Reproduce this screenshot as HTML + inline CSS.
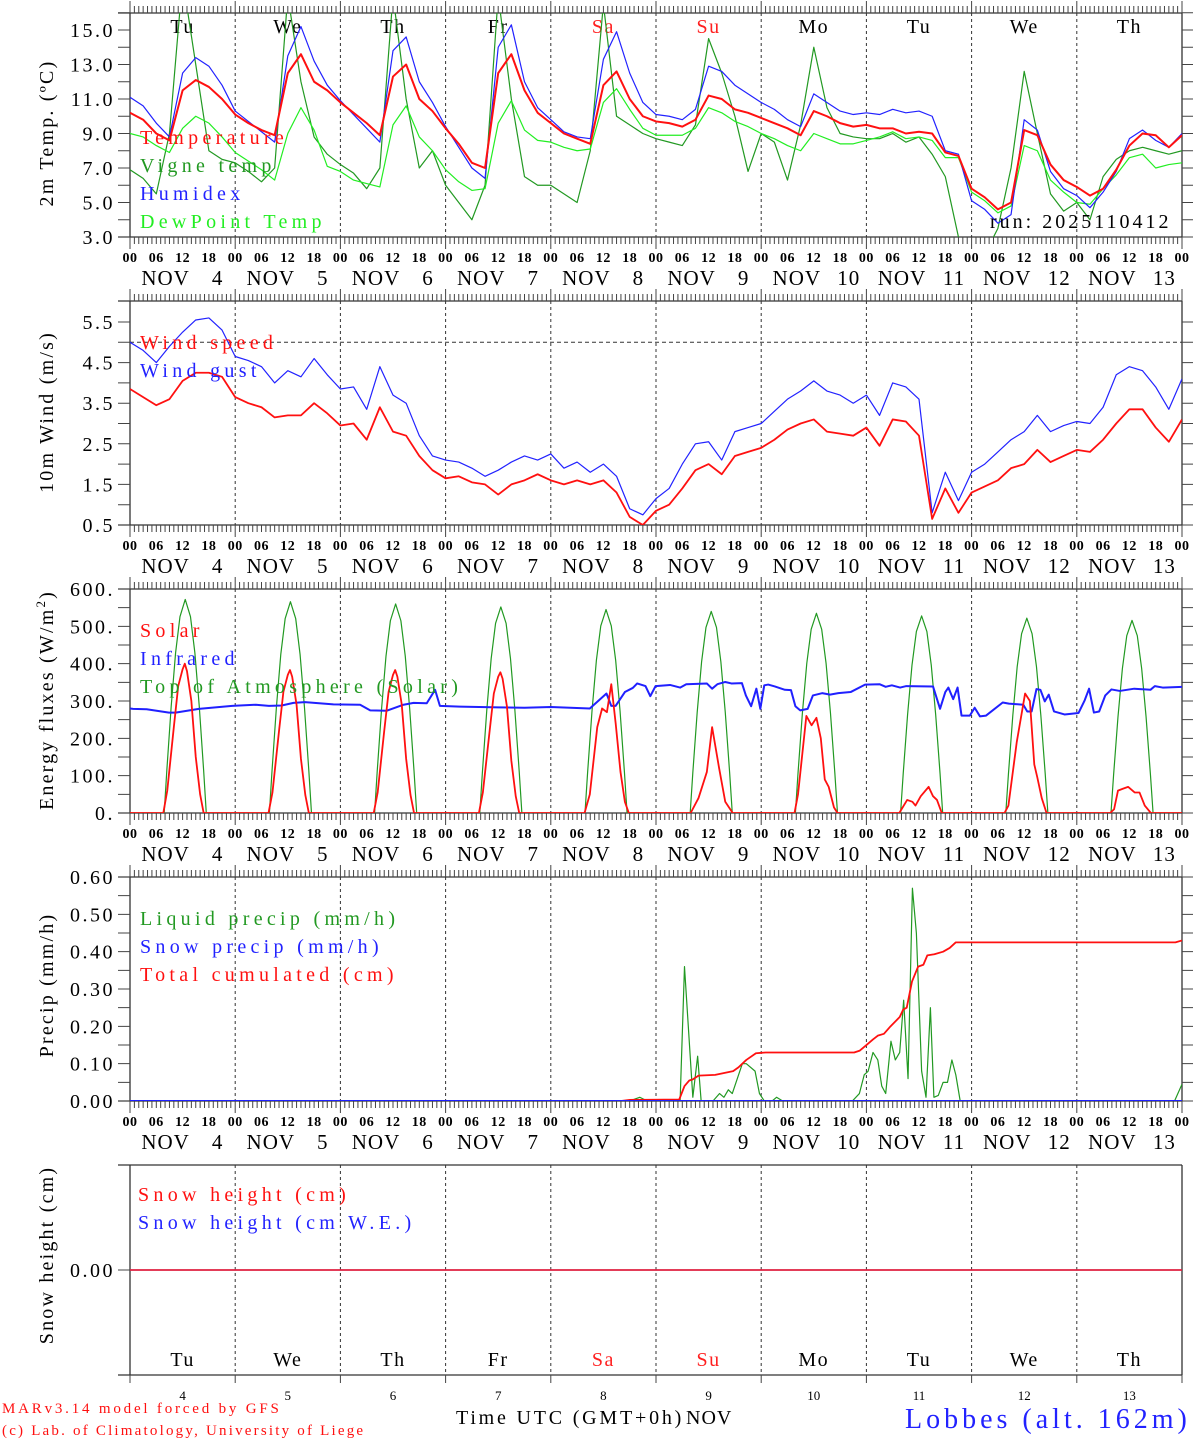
<!DOCTYPE html>
<html><head><meta charset="utf-8"><title>MAR meteogram Lobbes</title>
<style>
html,body{margin:0;padding:0;background:#fff;}
svg{display:block;font-family:"Liberation Serif","DejaVu Serif",serif;}
</style></head>
<body>
<svg id="chart" xmlns="http://www.w3.org/2000/svg" width="1194" height="1440" viewBox="0 0 1194 1440"></svg>
<script>
// ---------- DATA ----------
const dayNames = ["Tu","We","Th","Fr","Sa","Su","Mo","Tu","We","Th"];
const dayNums = ["4","5","6","7","8","9","10","11","12","13"];
const hourLabels = ["00","06","12","18"];
const tempTicks = ["3.0","5.0","7.0","9.0","11.0","13.0","15.0"];
const windTicks = ["0.5","1.5","2.5","3.5","4.5","5.5"];
const fluxTicks = ["0.","100.","200.","300.","400.","500.","600."];
const precipTicks = ["0.00","0.10","0.20","0.30","0.40","0.50","0.60"];

// 3-hourly series (index*3 = hours since Nov 4 00 UTC)
const temperature = [10.2,9.8,9.0,8.6,11.5,12.1,11.7,11.0, 10.1,9.6,9.2,8.9,12.5,13.6,12.0,11.5, 10.8,10.2,9.6,8.9,12.3,13.0,11.0,10.3, 9.3,8.4,7.3,7.0,12.5,13.6,11.5,10.2, 9.6,9.0,8.7,8.4,11.8,12.6,11.0,10.0, 9.7,9.6,9.4,9.8,11.2,11.0,10.4,10.2, 9.9,9.6,9.3,8.9,10.3,10.0,9.6,9.4, 9.5,9.3,9.3,9.0,9.1,9.0,7.9,7.7, 5.8,5.3,4.6,5.0,9.2,8.9,7.2,6.3, 5.9,5.4,5.8,6.9,8.3,9.0,8.9,8.2,8.9];
const humidex = [11.1,10.6,9.6,8.8,12.5,13.4,12.9,11.8, 10.3,9.7,9.1,8.5,13.5,15.2,13.2,11.8, 10.9,10.1,9.3,8.5,13.8,14.6,12.0,10.8, 9.4,8.2,7.0,6.4,14.0,15.3,12.0,10.5, 9.8,9.1,8.8,8.7,13.3,14.9,12.5,10.8, 10.1,10.0,9.8,10.4,12.9,12.6,11.8,11.3, 10.8,10.4,9.8,9.4,11.3,10.8,10.3,10.1, 10.2,10.1,10.4,10.2,10.3,10.0,8.0,7.8, 5.1,4.6,3.8,4.3,9.8,9.2,6.8,5.8, 5.4,4.7,5.6,6.8,8.7,9.2,8.6,8.2,9.0];
const dewpoint = [9.0,8.8,8.3,7.9,9.3,10.0,9.6,8.8, 7.9,7.4,6.9,6.3,9.0,10.5,9.2,7.1, 6.8,6.3,6.1,5.9,9.5,10.6,8.8,8.0, 6.9,6.2,5.7,5.8,9.6,10.9,9.2,8.6, 8.5,8.2,8.0,8.1,10.8,11.6,10.4,9.3, 8.9,8.9,8.9,9.3,10.5,10.2,9.7,9.4, 9.0,8.7,8.3,8.0,9.0,8.7,8.4,8.4, 8.6,8.8,9.1,8.7,8.8,8.6,7.6,7.6, 5.6,5.1,4.4,4.8,8.3,8.0,6.3,5.6, 5.0,4.9,5.8,6.6,7.6,7.8,7.0,7.2,7.3];
const vigne = [6.9,6.4,5.5,9.0,18.0,13.0,8.0,7.5, 7.3,6.8,6.2,7.0,17.0,12.0,8.8,7.8, 7.2,6.7,5.8,7.0,17.0,11.0,7.0,8.0, 6.0,5.0,4.0,6.0,17.0,11.0,6.5,6.0, 6.0,5.5,5.0,8.0,16.5,10.0,9.5,9.0, 8.7,8.5,8.3,9.5,14.5,12.5,10.0,6.8, 9.0,8.5,6.3,9.5,14.0,10.5,9.0,8.8, 8.7,8.7,9.0,8.5,8.8,7.8,6.5,3.0, 2.5,2.0,3.5,7.0,12.6,9.0,5.5,4.5, 5.0,4.0,6.5,7.5,8.0,8.2,8.0,7.8,8.0];

const windSpeed = [3.85,3.65,3.45,3.6,4.05,4.25,4.25,4.15, 3.65,3.5,3.4,3.15,3.2,3.2,3.5,3.25, 2.95,3.0,2.6,3.4,2.8,2.7,2.2,1.85, 1.65,1.7,1.55,1.5,1.25,1.5,1.6,1.75, 1.6,1.5,1.6,1.5,1.6,1.3,0.7,0.5, 0.85,1.0,1.4,1.85,2.0,1.75,2.2,2.3, 2.4,2.6,2.85,3.0,3.1,2.8,2.75,2.7, 2.9,2.45,3.1,3.05,2.7,0.65,1.4,0.8, 1.3,1.45,1.6,1.9,2.0,2.35,2.05,2.2, 2.35,2.3,2.6,3.0,3.35,3.35,2.9,2.55,3.1];
const windGust = [5.0,4.8,4.5,4.9,5.25,5.55,5.6,5.3, 4.65,4.55,4.4,4.0,4.3,4.15,4.6,4.2, 3.85,3.9,3.35,4.4,3.7,3.5,2.7,2.2, 2.1,2.05,1.9,1.7,1.85,2.05,2.2,2.1, 2.25,1.9,2.05,1.8,2.0,1.7,0.9,0.75, 1.15,1.4,2.0,2.5,2.55,2.1,2.8,2.9, 3.0,3.3,3.6,3.8,4.05,3.8,3.7,3.5, 3.7,3.2,4.0,3.9,3.6,0.8,1.8,1.1, 1.8,2.0,2.3,2.6,2.8,3.2,2.8,2.95, 3.05,3.0,3.4,4.2,4.4,4.3,3.9,3.35,4.1];

// Solar (hour, W/m2)
const solarHours = [0,7.6,8.5,10,11,12,12.5,13,14,15,16,16.8, 31.6,32.5,34,35,36,36.5,37,38,39,40,40.8, 55.6,56.5,58,59,60,60.5,61,62,63,64,64.8, 79.6,80.5,82,83,84,84.5,85,86,87,88,88.8, 103.7,104.9,106.6,107.7,108.8,109.8,110.8,111.9,112.9,113.8, 127.9,129.7,131.6,132.8,134.4,135.8,137.5, 151.6,152.4,154.3,155.5,156.6,157.6,158.5,159.4,160.6,161.4, 175.5,177.3,178.5,179.2,180.4,182.2,183.2,184.1,185.2, 199.5,200.4,202.3,204.2,205.3,206.3,207.0,208.0,209.1, 223.6,224.5,225.4,226.5,227.7,229.2,230.3,231.5,232.9,240];
const solarValues = [0,0,60,230,340,385,400,380,300,150,50,0, 0,55,220,325,370,383,365,290,145,48,0, 0,55,220,325,370,383,365,290,145,48,0, 0,55,215,320,365,377,360,285,140,45,0, 0,50,230,280,270,345,240,110,30,0, 0,40,110,230,120,30,0, 0,50,260,235,255,200,90,70,15,0, 0,35,30,20,45,70,45,35,0, 0,20,190,320,300,130,95,40,0, 0,10,60,65,70,55,55,20,0,0];

// Top-of-atmosphere solar: local hours and one row per day
const toaLocalHours = [7.8,8.4,9.4,10.4,11.4,12.6,13.8,14.8,15.8,16.8,17.4];
const toaByDay = [
 [0,114,286,429,526,572,526,429,286,114,0],
 [0,113,283,425,521,566,521,425,283,113,0],
 [0,112,280,420,515,560,515,420,280,112,0],
 [0,110,276,414,508,552,508,414,276,110,0],
 [0,109,273,409,501,545,501,409,273,109,0],
 [0,108,270,405,497,540,497,405,270,108,0],
 [0,107,268,401,492,535,492,401,268,107,0],
 [0,106,264,396,486,528,486,396,264,106,0],
 [0,104,261,392,480,522,480,392,261,104,0],
 [0,103,258,387,475,516,475,387,258,103,0]];

// Infrared (hour, W/m2)
const irHours = [0,0.7,3.8,8.9,10.4,15.7,23.3,28.7,31.7,34.6,37.3,39.9,46.4,52.5,54.8,58.6,62.4,64.7,67.7,69.6,70.7,75.2,84,90,96,104.9,108.7,109.8,110.8,112.9,114.7,115.7,117.6,118.7,119.9,123.2,125.5,126.9,131.6,132.8,134,135.8,137.2,139.6,140.5,141.7,142.9,143.8,144.7,145.6,147.1,149.4,150.8,151.8,152.9,154.6,155.8,157.9,159.7,161.6,164.4,167.7,171,172.4,173.8,175.7,177.1,183.2,184.8,186,186.7,187.8,188.8,189.7,191.6,192.7,193.9,195.3,199.1,200.5,203.8,204.7,205.7,206.8,207.7,208.7,209.6,210.8,213.2,216.4,217.8,218.8,219.9,221.1,222.5,223.9,225.8,229.1,232.8,233.8,235.6,240];
const irValues = [280,279,278,269,269,279,287,290,287,288,295,297,291,290,275,274,290,295,294,330,287,285,283,282,284,280,320,287,287,324,335,347,340,313,340,343,336,345,347,333,345,351,347,348,315,286,333,279,342,344,339,330,329,286,275,279,315,321,317,321,324,344,345,338,342,336,340,339,279,324,336,305,336,261,261,282,259,261,296,293,290,272,272,332,330,299,317,272,264,268,302,333,269,272,315,331,327,333,330,340,336,338];

// Precipitation (hour, mm/h)
const liquidHours = [0,114,116.3,118,125.5,126.5,128.4,129.5,130.3,133,134.5,135.5,136.5,137.4,139.7,140.6,142.6,143.6,144.7,146.5,147.5,148.9,164.8,166.4,167.5,168.4,169.5,170.6,171.5,172.4,173.6,174.6,175.6,176.5,177.5,178.5,179.4,180.6,181.6,182.6,183.4,184.4,185.5,186.5,187.5,188.4,189.4,238.3,240];
const liquidValues = [0,0,0.01,0,0,0.36,0.01,0.12,0,0,0.02,0.01,0.03,0.02,0.10,0.10,0.08,0.02,0,0,0.01,0,0,0.02,0.07,0.08,0.13,0.11,0.04,0.02,0.16,0.11,0.13,0.27,0.06,0.57,0.45,0.08,0.01,0.25,0.01,0.015,0.05,0.05,0.11,0.07,0,0,0.045];
const snowPrecipHours = [0,240];
const snowPrecipValues = [0,0];
const cumulHours = [0,112,114,125.3,126.5,127.6,128.4,129.7,133.5,137.6,138.8,140.6,142.8,145,165.2,166.5,168,169.5,170.6,172,173.5,175.6,176.4,177.2,178.4,179.8,181,181.9,183.5,185.5,187,188.4,238.5,240];
const cumulValues = [0,0,0.003,0.004,0.04,0.055,0.058,0.068,0.07,0.08,0.09,0.11,0.128,0.13,0.13,0.135,0.15,0.165,0.175,0.18,0.2,0.225,0.245,0.25,0.32,0.36,0.365,0.39,0.393,0.4,0.41,0.425,0.425,0.43];

// Snow height
const snowHours = [0,240];
const snowHeight = [0,0];
const snowWE = [0,0];

// ---------- DRAWING ----------
const svg = document.getElementById('chart');
const NS = 'http://www.w3.org/2000/svg';
const X0 = 130, X1 = 1182;
function xh(h){ return X0 + h*(X1-X0)/240; }
function mk(tag, attrs, parent){
  const e = document.createElementNS(NS, tag);
  for (const k in attrs) e.setAttribute(k, attrs[k]);
  (parent||svg).appendChild(e);
  return e;
}
function txt(s, x, y, size, fill, anchor, parent, ls){
  const t = mk('text', {x:x, y:y, 'font-size':size, fill:fill||'#000', 'text-anchor':anchor||'start'}, parent);
  if(ls) t.setAttribute('letter-spacing', ls);
  t.textContent = s;
  return t;
}
function linePath(xsArr, ysArr){
  let d='';
  for(let i=0;i<xsArr.length;i++){ d += (i?'L':'M') + xsArr[i].toFixed(2)+','+ysArr[i].toFixed(2); }
  return d;
}

const panels = [
  {id:'temp', top:13, bottom:237, y:v=>237-(v-3)*17.25},
  {id:'wind', top:301, bottom:525, y:v=>525-(v-0.5)*40.6},
  {id:'flux', top:589, bottom:813, y:v=>813-v*0.3733},
  {id:'precip', top:877, bottom:1101, y:v=>1101-v*373.3},
  {id:'snow', top:1165, bottom:1375, y:v=>1270-v*100}
];

const defs = mk('defs', {});
panels.forEach(p=>{
  const cp = mk('clipPath', {id:'clip-'+p.id}, defs);
  mk('rect', {x:X0, y:p.top, width:X1-X0, height:p.bottom-p.top}, cp);
});

function frame(p, hourlyTicks, name){
  const g = mk('g', {});
  
  
  mk('line', {x1:118, y1:p.top, x2:X1, y2:p.top, stroke:'#333', 'stroke-width':1.3}, g);
  mk('line', {x1:X0, y1:p.top, x2:X0, y2:p.bottom, stroke:'#333', 'stroke-width':1.3}, g);
  mk('line', {x1:X1, y1:p.top, x2:X1, y2:p.bottom, stroke:'#333', 'stroke-width':1.3}, g);
  mk('line', {x1:118, y1:p.bottom, x2:X1, y2:p.bottom, stroke:'#333', 'stroke-width':1.3}, g);
  for(let d=1; d<10; d++){
    mk('line', {x1:xh(d*24), y1:p.top, x2:xh(d*24), y2:p.bottom, stroke:'#333', 'stroke-width':1, 'stroke-dasharray':'3,3'}, g);
  }
  let d='';
  for(let h=0; h<=240; h++){
    const x = xh(h).toFixed(2);
    const L = (h%24===0)?12:7;
    d += 'M'+x+','+p.top+'V'+(p.top-L)+'M'+x+','+p.bottom+'V'+(p.bottom+L);
  }
  mk('path', {d:d, stroke:'#444', 'stroke-width':1, fill:'none'}, g);
}
function yTicks(p, values, labels, fmtVals){
  const g = mk('g', {});
  
  
  let d='';
  for(const v of values){ const y=p.y(v).toFixed(2); d+='M118,'+y+'H'+X0+'M'+X1+','+y+'H'+(X1+11); }
  mk('path', {d:d, stroke:'#444', 'stroke-width':1, fill:'none'}, g);
  labels.forEach((lab,i)=>{
    const t = txt(lab, 115, p.y(fmtVals[i])+7, 20, '#000', 'end', g, 2.5);
    
    
  });
}
function hourAxis(p){
  const g = mk('g', {});
  
  
  for(let day=0; day<=10; day++){
    for(let k=0;k<4;k++){
      if(day===10 && k>0) break;
      const t = txt(hourLabels[k], xh(day*24+k*6), p.bottom+25, 14, '#000', 'middle', g, 0.5);
      t.setAttribute('font-weight','bold');
    }
  }
  for(let day=0; day<10; day++){
    const cx = xh(day*24+12);
    txt('NOV', cx-17, p.bottom+48, 21, '#000', 'middle', g, 1);
    txt(dayNums[day], cx+35, p.bottom+48, 21, '#000', 'middle', g, 1);
  }
}
function series(p, hoursArr, vals, color, width, name){
  const xsA = hoursArr.map(xh), ysA = vals.map(p.y);
  const e = mk('path', {d:linePath(xsA, ysA), stroke:color, 'stroke-width':width, fill:'none', 'clip-path':'url(#clip-'+p.id+')', 'stroke-linejoin':'round'});
  
  
  return e;
}
function legend(lines, x, y0, step, name){
  const g = mk('g', {});
  
  
  lines.forEach((l,i)=>{
    const t = txt(l[0], x, y0+i*step, 20, l[1], 'start', g, 4.3);
    
    
  });
}
function yTitle(s, cy, name){
  const t = txt(s, 0, 0, 20, '#000', 'middle', null, 2.2);
  t.setAttribute('transform', 'translate(53,'+cy+') rotate(-90)');
  
  
}
function range(a,b,s){ const r=[]; for(let v=a; v<=b+1e-9; v+=s) r.push(+v.toFixed(4)); return r; }
const h3 = temperature.map((_,i)=>i*3);

// ---- Panel 1: temperature
const P1 = panels[0];
frame(P1, true, 'temperature-panel');
yTicks(P1, range(3,16,1), tempTicks, [3,5,7,9,11,13,15]);
hourAxis(P1);
dayNames.forEach((n,i)=>{
  const t = txt(n, xh(i*24+12), 33, 20, (i===4||i===5)?'#ff2020':'#000', 'middle', null, 1.5);
  
  
});
series(P1, h3, vigne, '#229922', 1.2, 'vigne-temp-line');
series(P1, h3, dewpoint, '#22ee22', 1.2, 'dewpoint-line');
series(P1, h3, humidex, '#2222ff', 1.2, 'humidex-line');
series(P1, h3, temperature, '#ff1010', 2, 'temperature-line');
legend([['Temperature','#ff1010'],['Vigne temp','#229922'],['Humidex','#2222ff'],['DewPoint Temp','#22ee22']], 140, 144, 28, 'temperature-legend');
const run = txt('run: 2025110412', 990, 228, 20, '#000', 'start', null, 3);  
yTitle('2m Temp. (ºC)', 133, 'temperature-y-title');

// ---- Panel 2: wind
const P2 = panels[1];
frame(P2, true, 'wind-panel');
yTicks(P2, range(0.5,5.5,0.5), windTicks, [0.5,1.5,2.5,3.5,4.5,5.5]);
hourAxis(P2);
mk('line', {x1:X0, y1:P2.y(5), x2:X1, y2:P2.y(5), stroke:'#333', 'stroke-width':1, 'stroke-dasharray':'4,3'});
series(P2, h3, windGust, '#2222ff', 1.2, 'wind-gust-line');
series(P2, h3, windSpeed, '#ff1010', 1.8, 'wind-speed-line');
legend([['Wind speed','#ff1010'],['Wind gust','#2222ff']], 140, 349, 28, 'wind-legend');
yTitle('10m Wind (m/s)', 412, 'wind-y-title');

// ---- Panel 3: fluxes
const P3 = panels[2];
frame(P3, true, 'flux-panel');
yTicks(P3, range(0,600,50), fluxTicks, [0,100,200,300,400,500,600]);
hourAxis(P3);
(function(){
  const hh=[0], vv=[0];
  toaByDay.forEach((row,d)=>{ row.forEach((v,k)=>{ hh.push(d*24+toaLocalHours[k]); vv.push(v); }); });
  hh.push(240); vv.push(0);
  series(P3, hh, vv, '#229922', 1.2, 'toa-solar-line');
})();
series(P3, irHours, irValues, '#2020ff', 2, 'infrared-line');
series(P3, solarHours, solarValues, '#ff1010', 1.8, 'solar-line');
legend([['Solar','#ff1010'],['Infrared','#2222ff'],['Top of Atmosphere (Solar)','#229922']], 140, 637, 28, 'flux-legend');
(function(){
  const t = txt('', 0, 0, 20, '#000', 'middle', null, 2.2);
  t.setAttribute('transform','translate(53,700) rotate(-90)');
  t.textContent = 'Energy fluxes (W/m';
  const s = mk('tspan', {'font-size':13, dy:-8}, t); s.textContent='2';
  const s2 = mk('tspan', {dy:8}, t); s2.textContent=')';
  
  
})();

// ---- Panel 4: precipitation
const P4 = panels[3];
frame(P4, true, 'precip-panel');
yTicks(P4, range(0,0.6,0.05), precipTicks, [0,0.1,0.2,0.3,0.4,0.5,0.6]);
hourAxis(P4);
series(P4, liquidHours, liquidValues, '#229922', 1.2, 'liquid-precip-line');
series(P4, cumulHours, cumulValues, '#ff1010', 1.8, 'cumulated-precip-line');
series(P4, snowPrecipHours, snowPrecipValues, '#2020ff', 2, 'snow-precip-line');
legend([['Liquid precip (mm/h)','#229922'],['Snow precip (mm/h)','#2222ff'],['Total cumulated (cm)','#ff1010']], 140, 925, 28, 'precip-legend');
yTitle('Precip (mm/h)', 985, 'precip-y-title');

// ---- Panel 5: snow
const P5 = panels[4];
(function(){
  const g = mk('g', {});
  
  
  mk('line', {x1:118, y1:P5.top, x2:X1, y2:P5.top, stroke:'#333', 'stroke-width':1.3}, g);
  mk('line', {x1:X0, y1:P5.top, x2:X0, y2:P5.bottom, stroke:'#333', 'stroke-width':1.3}, g);
  mk('line', {x1:X1, y1:P5.top, x2:X1, y2:P5.bottom, stroke:'#333', 'stroke-width':1.3}, g);
  mk('line', {x1:118, y1:P5.bottom, x2:X1, y2:P5.bottom, stroke:'#333', 'stroke-width':1.3}, g);
  for(let d=1; d<10; d++) mk('line', {x1:xh(d*24), y1:P5.top, x2:xh(d*24), y2:P5.bottom, stroke:'#333', 'stroke-width':1, 'stroke-dasharray':'3,3'}, g);
  let dd='';
  for(let day=0; day<=10; day++){ const x=xh(day*24).toFixed(2); dd+='M'+x+','+P5.bottom+'V'+(P5.bottom+8); }
  mk('path', {d:dd, stroke:'#444', 'stroke-width':1, fill:'none'}, g);
  mk('line', {x1:118, y1:P5.y(0), x2:X0, y2:P5.y(0), stroke:'#444', 'stroke-width':1}, g);
  const tl = txt('0.00', 115, P5.y(0)+7, 20, '#000', 'end', g, 2.5);
  
  
})();
series(P5, snowHours, snowWE, '#2020ff', 1.5, 'snow-we-line');
series(P5, snowHours, snowHeight, '#ff2020', 1.5, 'snow-height-line');
legend([['Snow height (cm)','#ff1010'],['Snow height (cm W.E.)','#2222ff']], 138, 1201, 28, 'snow-legend');
yTitle('Snow height (cm)', 1255, 'snow-y-title');
dayNames.forEach((n,i)=>{
  const t = txt(n, xh(i*24+12), 1366, 20, (i===4||i===5)?'#ff2020':'#000', 'middle', null, 1.5);
  
  
  const t2 = txt(dayNums[i], xh(i*24+12), 1400, 13, '#000', 'middle');
  
  
});

// footer
const f1 = txt('MARv3.14 model forced by GFS', 2, 1413, 15, '#ff1010', 'start', null, 2.8);  
const f2 = txt('(c) Lab. of Climatology, University of Liege', 2, 1435, 15, '#ff1010', 'start', null, 2.2);  
const f3 = txt('Time UTC (GMT+0h)', 456, 1424, 20, '#000', 'start', null, 2.8);  
const f4 = txt('NOV', 686, 1424, 20, '#000', 'start', null, 1);  
const f5 = txt('Lobbes (alt. 162m)', 905, 1428, 28, '#2222ff', 'start', null, 4);  
</script>
</body></html>
